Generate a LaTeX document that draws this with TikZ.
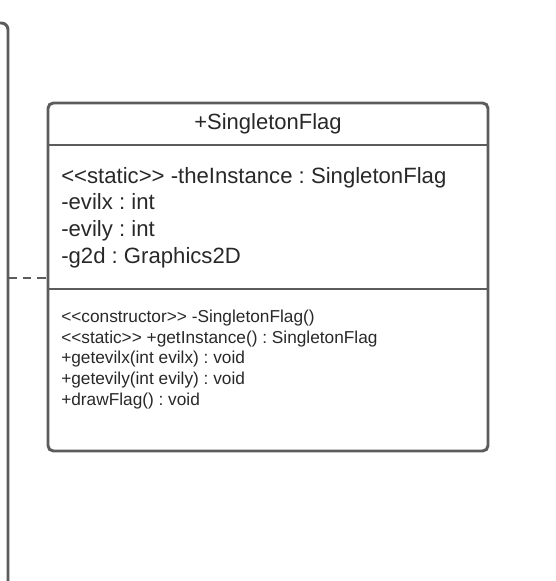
\documentclass[tikz,border=0pt]{standalone}
\usepackage{fontspec}
\setmainfont{Liberation Sans}
\usetikzlibrary{positioning}
\definecolor{umlgray}{RGB}{92,92,92}
\definecolor{umltext}{RGB}{40,40,40}
\newcommand{\stereotype}[1]{<\kern0pt<#1>\kern0pt>}
\frenchspacing
\tikzset{
  umlline/.style={draw=umlgray, line width=2.2pt},
  member/.style={anchor=base west, inner sep=0pt, text=umltext, font=\fontsize{16.6}{19}\selectfont},
  operation/.style={anchor=base west, inner sep=0pt, text=umltext, font=\fontsize{12.95}{15}\selectfont},
}
\begin{document}
\begin{tikzpicture}[x=0.75pt, y=-0.75pt] % pixel grid, y downwards

\useasboundingbox (0,0) rectangle (556,581);
\clip (0,0) rectangle (556,581);

% frame of the neighbouring element, only its right edge is visible
\coordinate (frame top) at (8,23);
\coordinate (frame link) at (8,278);
\draw[umlline, rounded corners=5pt] (-40,23) -- (frame top) -- (8,600);

% class box
\coordinate (flag nw) at (48,103);
\coordinate (flag se) at (488,451);
\draw[umlline, rounded corners=4pt] (flag nw) rectangle (flag se);
\coordinate (flag link) at (48,278);
\draw[umlline] (48,145) -- (488,145);
\draw[umlline] (48,289) -- (488,289);

\node[anchor=base, inner sep=0pt, text=umltext, font=\fontsize{16.5}{19}\selectfont] (title) at (268,130) {+SingletonFlag};

\node[member] (attr1) at (61,183) {\stereotype{static} -theInstance : SingletonFlag};
\node[member] (attr2) at (61,209.5) {-evilx : int};
\node[member] (attr3) at (61,236) {-evily : int};
\node[member] (attr4) at (61,263) {-g2d : Graphics2D};

\node[operation] (op1) at (61,322) {\stereotype{constructor} -SingletonFlag()};
\node[operation] (op2) at (61,343) {\stereotype{static} +getInstance() : SingletonFlag};
\node[operation] (op3) at (61,363) {+getevilx(int evilx) : void};
\node[operation] (op4) at (61,384) {+getevily(int evily) : void};
\node[operation] (op5) at (61,405) {+drawFlag() : void};

% dependency
\draw[draw=umlgray, line width=1.5pt, dash pattern=on 6.5pt off 4.5pt] (frame link) -- (flag link);
\end{tikzpicture}
\end{document}
